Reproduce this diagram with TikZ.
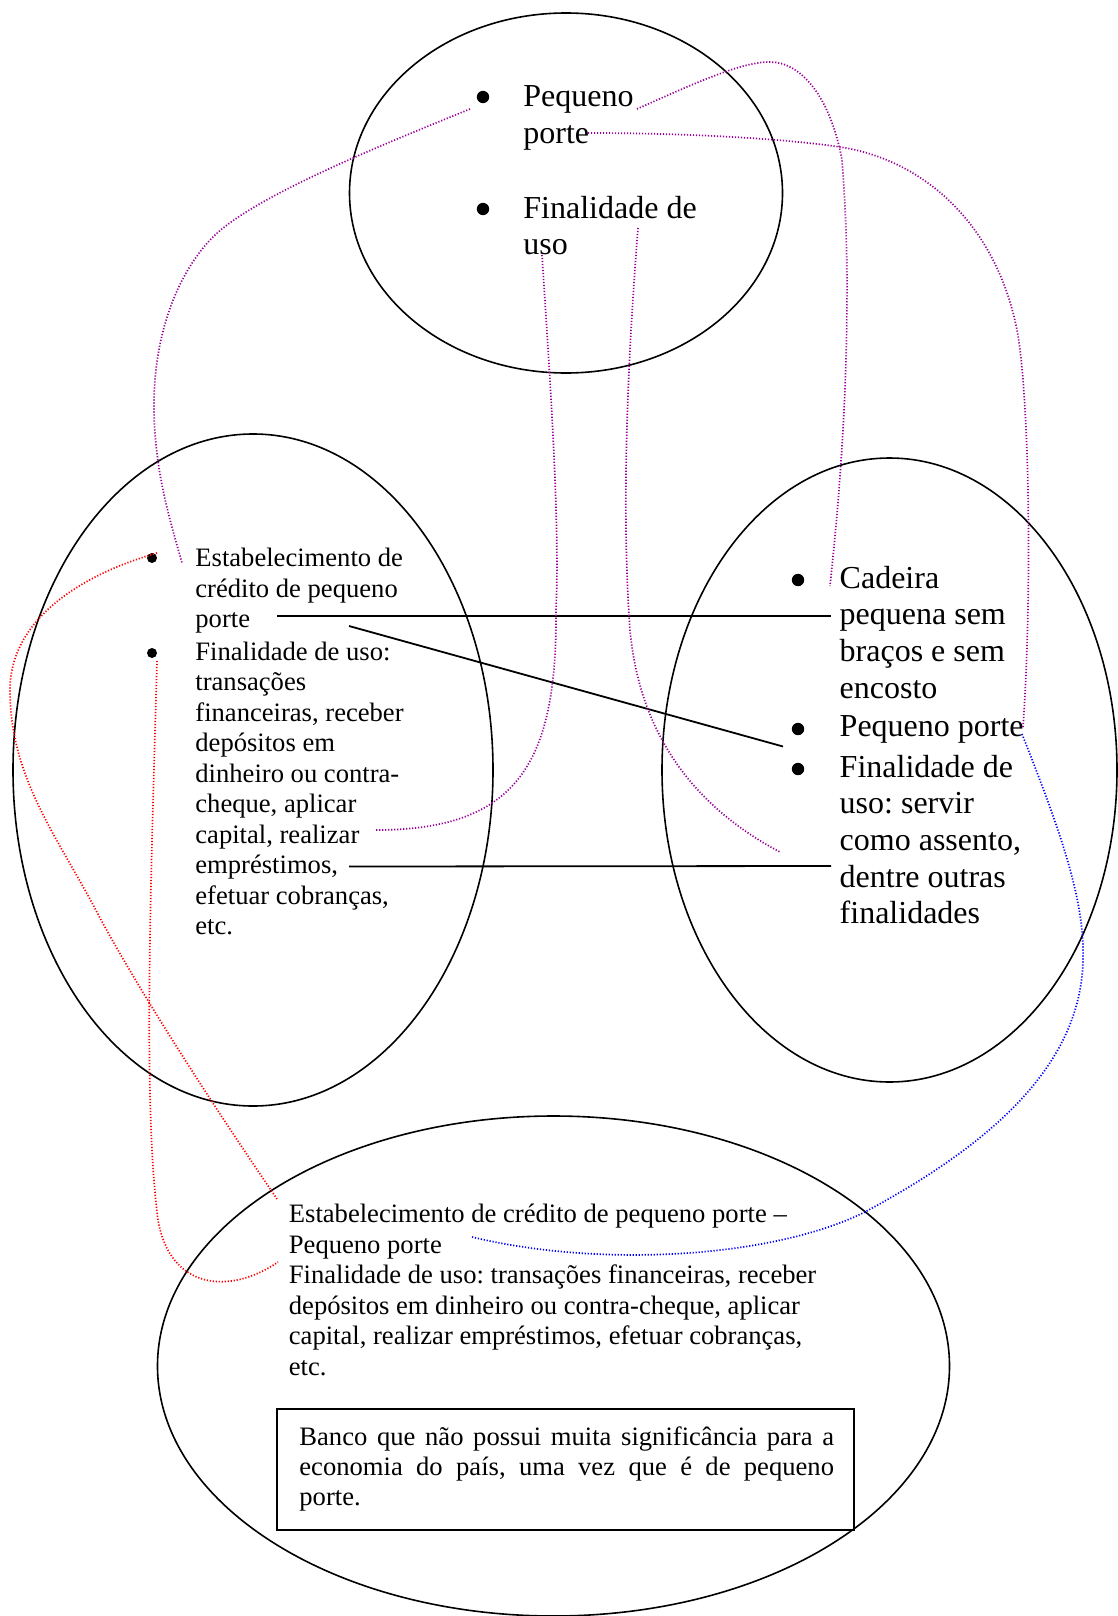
\documentclass[tikz,border=0pt]{standalone}
\usepackage{fontspec}
\setmainfont{Liberation Serif}
\usetikzlibrary{shapes.geometric}
\definecolor{linkpurple}{RGB}{153,0,153}
\definecolor{linkred}{RGB}{255,0,0}
\definecolor{linkblue}{RGB}{0,0,255}
\frenchspacing
\begin{document}
\begin{tikzpicture}[x=0.5pt,y=-0.5pt,
  oval/.style={draw, ellipse, line width=0.8pt, inner sep=0pt},
  bigdot/.style={circle, fill, inner sep=0pt, minimum size=6.2pt},
  smalldot/.style={circle, fill, inner sep=0pt, minimum size=5pt},
  txt/.style={inner sep=0pt, anchor=base west},
  bigfont/.style={font=\fontsize{16}{18.3}\selectfont},
  smallfont/.style={font=\fontsize{13.3}{15.25}\selectfont},
  link/.style={line width=0.85pt, dash pattern=on 0.6pt off 0.9pt, line cap=butt},
  solidlink/.style={line width=0.9pt}]
\useasboundingbox (0,0) rectangle (1118,1616);

% the four ovals and the summary box
\node[oval, minimum width=216.5pt, minimum height=180pt] (topoval) at (566,193) {};
\node[oval, minimum width=240pt, minimum height=336pt] (leftoval) at (253,770) {};
\node[oval, minimum width=227.5pt, minimum height=312pt] (rightoval) at (889.5,770) {};
\node[oval, minimum width=396pt, minimum height=250pt] (bottomoval) at (553.5,1366) {};
\node[draw, line width=0.9pt, minimum width=288.5pt, minimum height=60.5pt, inner sep=0pt] (sumbox) at (565.5,1469.5) {};

% top oval
\node[bigdot] (tb1) at (483,97) {};
\node[bigdot] (tb2) at (483,209) {};
\node[txt, bigfont] (tpeq) at (523,107) {\parbox[t]{150pt}{\raggedright Pequeno\\porte}};
\node[txt, bigfont] (tfin) at (523,218) {\parbox[t]{150pt}{\raggedright Finalidade de\\uso}};

% left oval
\node[smalldot] (lb1) at (152,558) {};
\node[smalldot] (lb2) at (152,653) {};
\node[txt, smallfont] (lest) at (195,566.7) {\parbox[t]{130pt}{\raggedright Estabelecimento de\\crédito de pequeno\\porte}};
\node[txt, smallfont] (lfin) at (195,660) {\parbox[t]{130pt}{\raggedright Finalidade de uso:\\transações\\financeiras, receber\\depósitos em\\dinheiro ou contra-\\cheque, aplicar\\capital, realizar\\empréstimos,\\efetuar cobranças,\\etc.}};

% right oval
\node[bigdot] (rb1) at (798,580) {};
\node[bigdot] (rb2) at (798,729) {};
\node[bigdot] (rb3) at (798,769) {};
\node[txt, bigfont] (rcad) at (839.3,588.3) {\parbox[t]{130pt}{\raggedright Cadeira\\pequena sem\\braços e sem\\encosto}};
\node[txt, bigfont] (rpeq) at (839.3,736.7) {Pequeno porte};
\node[txt, bigfont] (rfin) at (839.3,777.3) {\parbox[t]{130pt}{\raggedright Finalidade de\\uso: servir\\como assento,\\dentre outras\\finalidades}};

% bottom oval
\node[txt, smallfont] (btxt) at (288.5,1222.7) {\parbox[t]{280pt}{\raggedright Estabelecimento de crédito de pequeno porte –\\Pequeno porte\\Finalidade de uso: transações financeiras, receber\\depósitos em dinheiro ou contra-cheque, aplicar\\capital, realizar empréstimos, efetuar cobranças,\\etc.}};
\node[txt, font=\fontsize{13.3}{15}\selectfont] (boxtxt) at (299,1445) {\parbox[t]{267.3pt}{\makebox[\linewidth][s]{Banco que não possui muita significância para a}\\\makebox[\linewidth][s]{economia do país, uma vez que é de pequeno}\\porte.}};

% solid connectors
\coordinate (s1a) at (277,616);   \coordinate (s1b) at (831,616);
\coordinate (s2a) at (349,626);   \coordinate (s2b) at (783,746.5);
\coordinate (s3a) at (349,866.5); \coordinate (s3b) at (831,866);
\draw[solidlink] (s1a) -- (s1b);
\draw[solidlink] (s2a) -- (s2b);
\draw[solidlink] (s3a) -- (s3b);

% dotted links, purple
\coordinate (p1a) at (470,109); \coordinate (p1b) at (182,563);
\draw[link, linkpurple] (p1a) .. controls (377,147) and (253,197) .. (213,237)
  .. controls (180,270) and (154,330) .. (154,405)
  .. controls (154,470) and (170,520) .. (p1b);
\coordinate (p2a) at (637,109); \coordinate (p2b) at (830,586);
\draw[link, linkpurple] (p2a) .. controls (710,76) and (745,62) .. (770,62)
  .. controls (800,62) and (830,95) .. (842,160)
  .. controls (850,260) and (850,400) .. (p2b);
\coordinate (p3a) at (588,133); \coordinate (p3b) at (1023,727);
\draw[link, linkpurple] (p3a) .. controls (680,133) and (780,138) .. (840,147)
  .. controls (920,159) and (995,220) .. (1017,330)
  .. controls (1030,400) and (1032,600) .. (p3b);
\coordinate (p4a) at (542,255); \coordinate (p4b) at (376,830);
\draw[link, linkpurple] (p4a) .. controls (550,380) and (560,520) .. (556,610)
  .. controls (557,760) and (520,830) .. (p4b);
\coordinate (p5a) at (638,228); \coordinate (p5b) at (780,852);
\draw[link, linkpurple] (p5a) .. controls (626,380) and (622,520) .. (630,630)
  .. controls (640,740) and (700,810) .. (p5b);

% dotted links, red
\coordinate (r1a) at (157,553); \coordinate (r1b) at (277,1199);
\draw[link, linkred] (r1a) .. controls (80,575) and (10,620) .. (10,690)
  .. controls (10,780) and (60,840) .. (100,918)
  .. controls (150,1010) and (230,1130) .. (r1b);
\coordinate (r2a) at (157,661); \coordinate (r2b) at (278,1262);
\draw[link, linkred] (r2a) .. controls (152,850) and (142,1100) .. (158,1220)
  .. controls (170,1290) and (230,1295) .. (r2b);

% dotted link, blue
\coordinate (b1a) at (1022,734); \coordinate (b1b) at (472,1237);
\draw[link, linkblue] (b1a) .. controls (1060,830) and (1085,900) .. (1083,960)
  .. controls (1081,1060) and (1000,1140) .. (863,1213)
  .. controls (770,1258) and (600,1268) .. (b1b);
\end{tikzpicture}
\end{document}
